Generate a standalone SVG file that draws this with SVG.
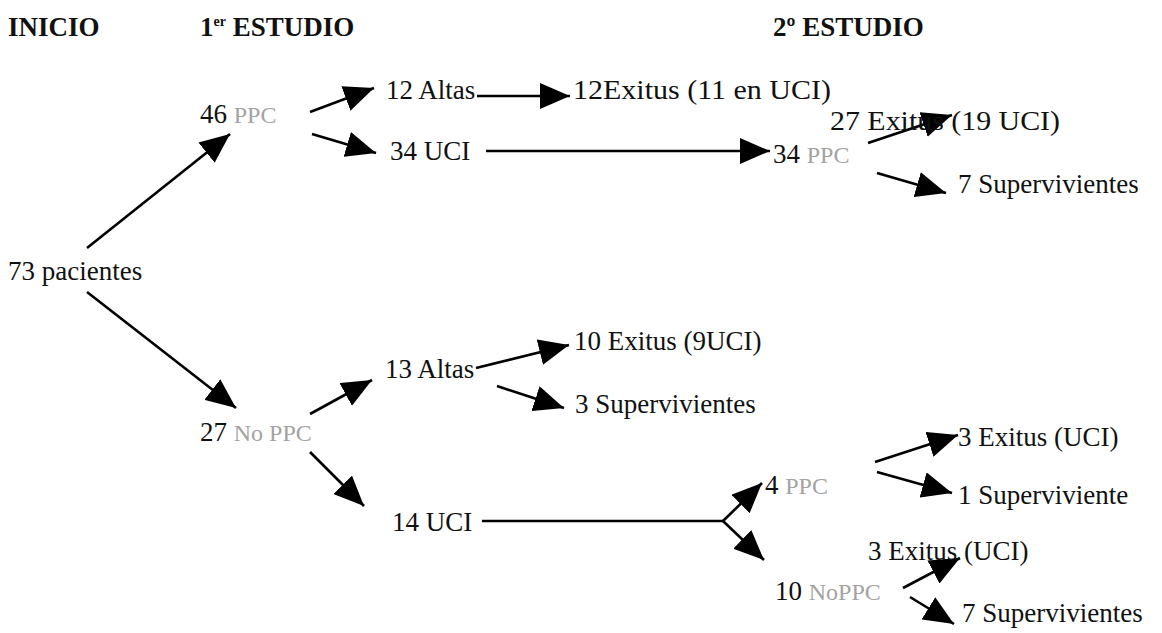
<svg xmlns="http://www.w3.org/2000/svg" width="1162" height="633" viewBox="0 0 1162 633">
<style>
text{font-family:"Liberation Serif","Times New Roman",serif;font-size:27px;fill:#111}
.h{font-weight:bold;font-size:27px}
.g{fill:#a3a3a3;font-size:24px}
.c line,.c path{stroke:#000;stroke-width:2.6;fill:none}
</style>
<defs>
<marker id="a" markerUnits="userSpaceOnUse" markerWidth="32" markerHeight="26" refX="30" refY="13" orient="auto">
<path d="M0,0 L30,13 L0,26 Z" fill="#000"/>
</marker>
</defs>
<rect width="1162" height="633" fill="#fff"/>
<g id="headers">
<text class="h" x="8" y="36">INICIO</text>
<text class="h" x="200" y="36">1<tspan font-size="14" dy="-10">er</tspan><tspan dy="10"> ESTUDIO</tspan></text>
<text class="h" x="773" y="36">2º ESTUDIO</text>
</g>
<g class="c" id="connectors">
<line x1="87" y1="248" x2="230" y2="134" marker-end="url(#a)"/>
<line x1="87" y1="292" x2="236" y2="408" marker-end="url(#a)"/>
<line x1="310" y1="112" x2="374" y2="88" marker-end="url(#a)"/>
<line x1="312" y1="134" x2="376" y2="153" marker-end="url(#a)"/>
<line x1="477" y1="96" x2="570" y2="96" marker-end="url(#a)"/>
<line x1="486" y1="151" x2="770" y2="151" marker-end="url(#a)"/>
<line x1="868" y1="143" x2="952" y2="115" marker-end="url(#a)"/>
<line x1="877" y1="173" x2="946" y2="193" marker-end="url(#a)"/>
<line x1="310" y1="414" x2="372" y2="380" marker-end="url(#a)"/>
<line x1="476" y1="368" x2="569" y2="345" marker-end="url(#a)"/>
<line x1="497" y1="386" x2="564" y2="408" marker-end="url(#a)"/>
<line x1="310" y1="452" x2="364" y2="506" marker-end="url(#a)"/>
<line x1="482" y1="521" x2="723" y2="521"/>
<line x1="723" y1="521" x2="762" y2="483" marker-end="url(#a)"/>
<line x1="723" y1="521" x2="764" y2="560" marker-end="url(#a)"/>
<line x1="875" y1="462" x2="958" y2="435" marker-end="url(#a)"/>
<line x1="877" y1="472" x2="952" y2="493" marker-end="url(#a)"/>
<line x1="903" y1="588" x2="960" y2="558" marker-end="url(#a)"/>
<line x1="910" y1="597" x2="954" y2="624" marker-end="url(#a)"/>
</g>
<g id="n73"><text x="8" y="280">73 pacientes</text></g>
<g id="n46ppc"><text x="200" y="123">46 <tspan class="g">PPC</tspan></text></g>
<g id="n12altas"><text x="386" y="99">12 Altas</text></g>
<g id="n12exitus"><text x="573" y="99" textLength="258" lengthAdjust="spacingAndGlyphs">12Exitus (11 en UCI)</text></g>
<g id="n34uci"><text x="390" y="160">34 UCI</text></g>
<g id="n34ppc"><text x="773" y="163">34 <tspan class="g">PPC</tspan></text></g>
<g id="n27exitus"><text x="830" y="130" textLength="230" lengthAdjust="spacingAndGlyphs">27 Exitus (19 UCI)</text></g>
<g id="n7sup1"><text x="958" y="193">7 Supervivientes</text></g>
<g id="n27noppc"><text x="200" y="441">27 <tspan class="g">No PPC</tspan></text></g>
<g id="n13altas"><text x="385" y="378">13 Altas</text></g>
<g id="n10exitus"><text x="574" y="350">10 Exitus (9UCI)</text></g>
<g id="n3sup"><text x="575" y="413">3 Supervivientes</text></g>
<g id="n14uci"><text x="392" y="531">14 UCI</text></g>
<g id="n4ppc"><text x="765" y="494">4 <tspan class="g">PPC</tspan></text></g>
<g id="n3exitus1"><text x="958" y="446">3 Exitus (UCI)</text></g>
<g id="n1sup"><text x="958" y="504">1 Superviviente</text></g>
<g id="n3exitus2"><text x="868" y="560">3 Exitus (UCI)</text></g>
<g id="n10noppc"><text x="775" y="600">10 <tspan class="g">NoPPC</tspan></text></g>
<g id="n7sup2"><text x="962" y="622">7 Supervivientes</text></g>
</svg>
